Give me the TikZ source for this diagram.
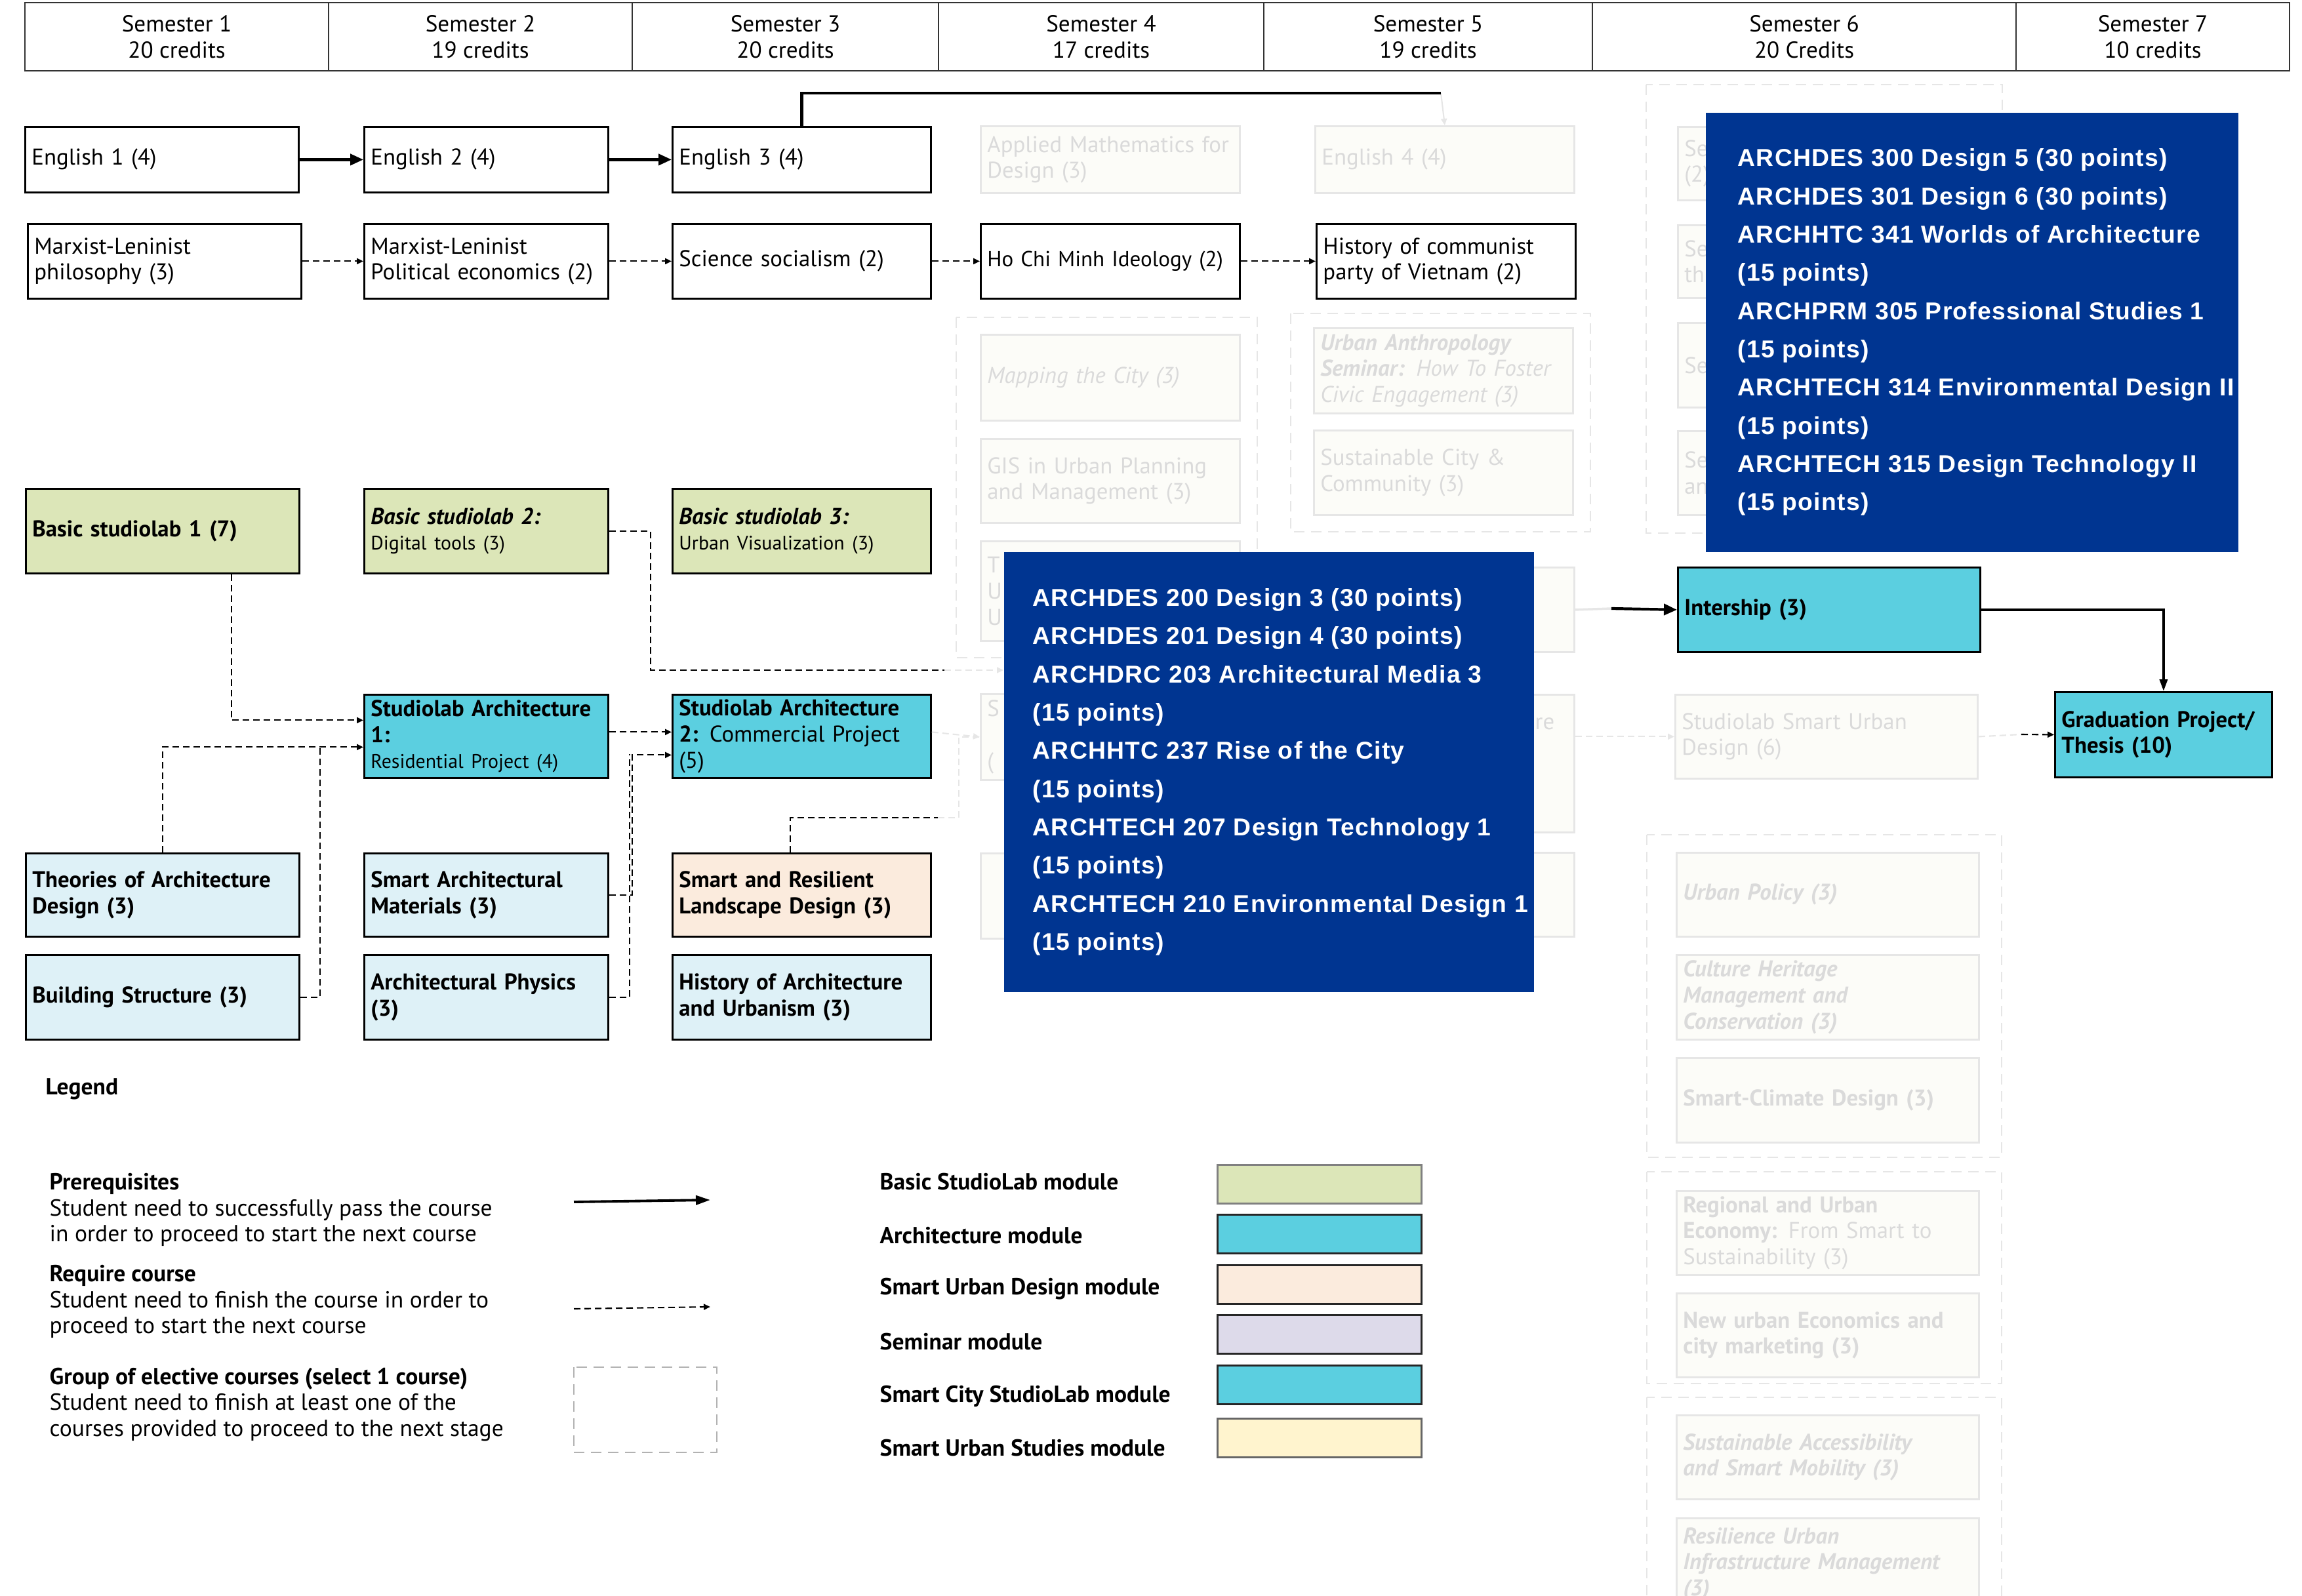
\documentclass[tikz,border=0pt]{standalone}
\usepackage{fontspec}
\setmainfont{PT Sans}
\newfontfamily\codefont[LetterSpace=3.5]{Liberation Sans}
\usetikzlibrary{arrows.meta,calc}

\definecolor{basicgreen}{HTML}{DCE6B8}
\definecolor{archcyan}{HTML}{5BCFE0}
\definecolor{paleblue}{HTML}{DEF1F7}
\definecolor{peach}{HTML}{FBEBDD}
\definecolor{lavender}{HTML}{DDDAEA}
\definecolor{cream}{HTML}{FFF4CE}
\definecolor{deepblue}{HTML}{003591}
\definecolor{fadetext}{HTML}{DADADA}
\definecolor{fadeline}{HTML}{E6E6E6}
\definecolor{fadefill}{HTML}{FCFCF8}

\newcommand{\smallline}{\fontsize{8.5}{10.5}\selectfont}

\begin{document}
\begin{tikzpicture}[x=1cm,y=-1cm,
    sem/.style={draw=black!80, line width=0.6pt, anchor=north west, align=center, inner sep=0pt, minimum height=1.04cm, font=\fontsize{10}{11.3}\selectfont},
    box/.style={draw=black, line width=0.8pt, anchor=north west, inner xsep=0.1cm, inner ysep=0pt, align=left, font=\fontsize{9.9}{11.3}\selectfont},
    fade/.style={box, draw=fadeline, fill=fadefill, text=fadetext},
    colA/.style={text width=3.97cm},
    colB/.style={text width=3.52cm},
    colC/.style={text width=3.74cm},
    colD/.style={text width=3.75cm},
    colE/.style={text width=3.75cm},
    colF/.style={text width=4.41cm},
    colG/.style={text width=3.11cm},
    group/.style={draw=fadeline, line width=0.6pt, dash pattern=on 0.16cm off 0.1cm},
    prereq/.style={line width=1.2pt, -{Triangle[length=0.2cm,width=0.17cm]}},
    req/.style={line width=0.6pt, dash pattern=on 0.1cm off 0.06cm, -{Triangle[length=0.1cm,width=0.09cm]}},
    fadereq/.style={req, draw=fadeline, color=fadeline},
    bluebox/.style={fill=deepblue, anchor=north west, inner sep=0pt},
    bluetext/.style={anchor=west, inner sep=0pt, align=left, text=white, font=\codefont\bfseries\fontsize{10.6}{16.6}\selectfont},
    swatch/.style={draw=black!85, line width=0.8pt, anchor=north west, minimum width=3.11cm, minimum height=0.59cm, inner sep=0pt},
    legtext/.style={anchor=west, align=left, inner sep=0pt, font=\fontsize{10.1}{11.3}\selectfont}]

  \useasboundingbox (0,0) rectangle (35.10,24.33);

  % semesters
  \node[sem, minimum width=4.63cm] (s1) at (0.37,0.03) {Semester 1\\20 credits};
  \node[sem, minimum width=4.63cm] (s2) at (5.00,0.03) {Semester 2\\19 credits};
  \node[sem, minimum width=4.67cm] (s3) at (9.63,0.03) {Semester 3\\20 credits};
  \node[sem, minimum width=4.96cm] (s4) at (14.30,0.03) {Semester 4\\17 credits};
  \node[sem, minimum width=5.01cm] (s5) at (19.26,0.03) {Semester 5\\19 credits};
  \node[sem, minimum width=6.46cm] (s6) at (24.27,0.03) {Semester 6\\20 Credits};
  \node[sem, minimum width=4.17cm] (s7) at (30.73,0.03) {Semester 7\\10 credits};

  % faded groups of elective courses
  \draw[group] (14.58,4.84) rectangle (19.17,10.03);
  \draw[group] (19.68,4.78) rectangle (24.25,8.11);
  \draw[group] (25.10,1.29) rectangle (30.53,8.13);
  \draw[group] (25.11,12.73) rectangle (30.52,17.65);
  \draw[group] (25.11,17.87) rectangle (30.52,21.10);
  \draw[group] (25.11,21.31) rectangle (30.52,24.80);

  % faded courses
  \node[fade, colD, minimum height=1.02cm] (appmath) at (14.94,1.91) {Applied Mathematics for\\Design (3)};
  \node[fade, colE, minimum height=1.02cm] (eng4) at (20.04,1.91) {English 4 (4)};
  \node[fade, colD, minimum height=1.31cm] (mapcity) at (14.94,5.09) {\textit{Mapping the City (3)}};
  \node[fade, colD, minimum height=1.28cm] (gis) at (14.94,6.68) {GIS in Urban Planning\\and Management (3)};
  \node[fade, colD, minimum height=1.52cm] (fadeT) at (14.94,8.24) {T\\U\\U};
  \node[fade, colD, minimum height=1.31cm] (fade4b) at (14.94,10.57) {S\\[0.4cm](};
  \node[fade, colD, minimum height=1.30cm] (fade4c) at (14.94,13.00) {};
  \node[fade, colE, minimum height=1.30cm] (urbanth) at (20.02,4.99) {\textbf{\textit{Urban Anthropology}}\\\textbf{\textit{Seminar:}} \textit{How To Foster}\\\textit{Civic Engagement (3)}};
  \node[fade, colE, minimum height=1.29cm] (suscity) at (20.02,6.55) {Sustainable City \&\\Community (3)};
  \node[fade, colE, minimum height=1.29cm] (fade5a) at (20.04,8.64) {};
  \node[fade, colE, minimum height=2.10cm] (fade5b) at (20.04,10.58) {};
  \node[fade, colE, minimum height=1.28cm] (fade5c) at (20.04,12.99) {};
  \node[fadetext, anchor=west, inner sep=0pt, font=\fontsize{9.9}{11}\selectfont] (refrag) at (23.40,11.04) {re};
  \node[fade, colF, minimum height=1.12cm] (se1) at (25.57,1.92) {Se\\(2)};
  \node[fade, colF, minimum height=1.11cm] (se2) at (25.57,3.42) {Se\\th};
  \node[fade, colF, minimum height=1.29cm] (se3) at (25.57,4.91) {Se};
  \node[fade, colF, minimum height=1.28cm] (se4) at (25.57,6.56) {Se\\an};
  \node[fade, colF, minimum height=1.28cm] (smartud) at (25.53,10.58) {Studiolab Smart Urban\\Design (6)};
  \node[fade, colF, minimum height=1.28cm] (upolicy) at (25.55,12.99) {\textbf{\textit{Urban Policy (3)}}};
  \node[fade, colF, minimum height=1.29cm] (cheritage) at (25.55,14.55) {\textbf{\textit{Culture Heritage}}\\\textbf{\textit{Management and}}\\\textbf{\textit{Conservation (3)}}};
  \node[fade, colF, minimum height=1.29cm] (sclimate) at (25.55,16.12) {\textbf{Smart-Climate Design (3)}};
  \node[fade, colF, minimum height=1.28cm] (regecon) at (25.55,18.15) {\textbf{Regional and Urban}\\\textbf{Economy:} From Smart to\\Sustainability (3)};
  \node[fade, colF, minimum height=1.28cm] (newecon) at (25.55,19.71) {\textbf{New urban Economics and}\\\textbf{city marketing (3)}};
  \node[fade, colF, minimum height=1.28cm] (susacc) at (25.55,21.57) {\textbf{\textit{Sustainable Accessibility}}\\\textbf{\textit{and Smart Mobility (3)}}};
  \node[fade, colF, minimum height=1.40cm] (resinf) at (25.55,23.14) {\textbf{\textit{Resilience Urban}}\\\textbf{\textit{Infrastructure Management}}\\\textbf{\textit{(3)}}};

  % general courses
  \node[box, colA, minimum height=1.00cm] (eng1) at (0.37,1.92) {English 1 (4)};
  \node[box, colB, minimum height=1.00cm] (eng2) at (5.54,1.92) {English 2 (4)};
  \node[box, colC, minimum height=1.00cm] (eng3) at (10.24,1.92) {English 3 (4)};
  \node[box, colA, minimum height=1.14cm] (ml1) at (0.41,3.40) {Marxist-Leninist\\philosophy (3)};
  \node[box, colB, minimum height=1.14cm] (ml2) at (5.54,3.40) {Marxist-Leninist\\Political economics (2)};
  \node[box, colC, minimum height=1.14cm] (scisoc) at (10.24,3.40) {Science socialism (2)};
  \node[box, colD, minimum height=1.14cm, font=\fontsize{9.4}{11.3}\selectfont] (hcm) at (14.94,3.40) {Ho Chi Minh Ideology (2)};
  \node[box, colE, minimum height=1.14cm] (hcp) at (20.06,3.40) {History of communist\\party of Vietnam (2)};

  % studiolabs and modules
  \node[box, colA, minimum height=1.29cm, fill=basicgreen] (bs1) at (0.38,7.44) {\textbf{Basic studiolab 1 (7)}};
  \node[box, colB, minimum height=1.29cm, fill=basicgreen] (bs2) at (5.54,7.44) {\textbf{\textit{Basic studiolab 2:}}\\{\smallline Digital tools (3)}};
  \node[box, colC, minimum height=1.29cm, fill=basicgreen] (bs3) at (10.24,7.44) {\textbf{\textit{Basic studiolab 3:}}\\{\smallline Urban Visualization (3)}};
  \node[box, colB, minimum height=1.27cm, fill=archcyan] (sa1) at (5.54,10.58) {\textbf{Studiolab Architecture}\\\textbf{1:}\\{\smallline Residential Project (4)}};
  \node[box, colC, minimum height=1.27cm, fill=archcyan] (sa2) at (10.24,10.58) {\textbf{Studiolab Architecture}\\\textbf{2:} Commercial Project\\(5)};
  \node[box, colA, minimum height=1.27cm, fill=paleblue] (theo) at (0.38,13.00) {\textbf{Theories of Architecture}\\\textbf{Design (3)}};
  \node[box, colB, minimum height=1.27cm, fill=paleblue] (smat) at (5.54,13.00) {\textbf{Smart Architectural}\\\textbf{Materials (3)}};
  \node[box, colC, minimum height=1.27cm, fill=peach] (sres) at (10.24,13.00) {\textbf{Smart and Resilient}\\\textbf{Landscape Design (3)}};
  \node[box, colA, minimum height=1.29cm, fill=paleblue] (bstruct) at (0.38,14.55) {\textbf{Building Structure (3)}};
  \node[box, colB, minimum height=1.29cm, fill=paleblue] (aphys) at (5.54,14.55) {\textbf{Architectural Physics}\\\textbf{(3)}};
  \node[box, colC, minimum height=1.29cm, fill=paleblue] (harch) at (10.24,14.55) {\textbf{History of Architecture}\\\textbf{and Urbanism (3)}};
  \node[box, colF, minimum height=1.29cm, fill=archcyan] (intern) at (25.57,8.64) {\textbf{Intership (3)}};
  \node[box, colG, minimum height=1.30cm, fill=archcyan] (grad) at (31.32,10.54) {\textbf{Graduation Project/}\\\textbf{Thesis (10)}};

  % faded connectors
  \coordinate (e4c) at (21.97,1.42);
  \draw[fadereq, solid] (e4c) -- (eng4.north);
  \draw[fadereq] (14.40,10.22) -- (15.30,10.22);
  \draw[fadereq, -] (14.30,12.47) -- (14.62,12.47) |- (fade4b.west);
  \draw[fadereq] ([yshift=0.065cm]sa2.east) -- (fade4b.west);
  \draw[fadereq] (fade5b.east |- smartud.west) -- (smartud.west);
  \draw[fadeline, line width=1pt] (fade5a.east) -- (24.57,9.28);
  \draw[fadereq, -] (smartud.east) -- (30.82,11.20);

  % prerequisites
  \draw[prereq] (eng1) -- (eng2);
  \draw[prereq] (eng2) -- (eng3);
  \draw[line width=1.2pt] (eng3.north) |- (e4c);
  \draw[prereq] (24.57,9.28) coordinate (i1) -- (intern.west);
  \draw[line width=1pt, -{Triangle[length=0.18cm,width=0.12cm]}] (intern.east) -| (grad.north);

  % required courses
  \draw[req] (ml1) -- (ml2);
  \draw[req] (ml2) -- (scisoc);
  \draw[req] (scisoc) -- (hcm);
  \draw[req] (hcm) -- (hcp);
  \draw[req] ([xshift=1.05cm]bs1.south) |- ([yshift=0.245cm]sa1.west);
  \draw[req] (theo.north) |- ([yshift=-0.165cm]sa1.west);
  \draw[req, -] (bstruct.east) -| (4.88,11.38) coordinate (j1);
  \draw[req, -] (bs2.east) -- ++(0.63,0) |- (14.40,10.22) coordinate (b2c);
  \draw[req] ([yshift=0.065cm]sa1.east) -- ([yshift=0.065cm]sa2.west);
  \draw[req] (smat.east) -- ++(0.35,0) |- ([yshift=-0.285cm]sa2.west);
  \draw[req, -] (aphys.east) -| (9.60,11.50) coordinate (j2);
  \draw[req, -] ([xshift=-0.17cm]sres.north) |- (14.30,12.47) coordinate (r1);
  \draw[req] (30.82,11.20) coordinate (g1) -- (grad.west);

  % course lists
  \node[bluebox, minimum width=8.12cm, minimum height=6.70cm] (topblue) at (26.00,1.71) {};
  \node[bluetext] (toplist) at ([xshift=0.49cm]topblue.west)
    {ARCHDES 300 Design 5 (30 points)\\ARCHDES 301 Design 6 (30 points)\\ARCHHTC 341 Worlds of Architecture\\(15 points)\\ARCHPRM 305 Professional Studies 1\\(15 points)\\ARCHTECH 314 Environmental Design II\\(15 points)\\ARCHTECH 315 Design Technology II\\(15 points)};
  \node[bluebox, minimum width=8.08cm, minimum height=6.71cm] (botblue) at (15.30,8.41) {};
  \node[bluetext] (botlist) at ([xshift=0.44cm]botblue.west)
    {ARCHDES 200 Design 3 (30 points)\\ARCHDES 201 Design 4 (30 points)\\ARCHDRC 203 Architectural Media 3\\(15 points)\\ARCHHTC 237 Rise of the City\\(15 points)\\ARCHTECH 207 Design Technology 1\\(15 points)\\ARCHTECH 210 Environmental Design 1\\(15 points)};

  % legend
  \node[legtext] (legend) at (0.69,16.61) {\textbf{Legend}};
  \node[legtext] (lpre) at (0.75,18.45) {\textbf{Prerequisites}\\Student need to successfully pass the course\\in order to proceed to start the next course};
  \node[legtext] (lreq) at (0.75,19.85) {\textbf{Require course}\\Student need to finish the course in order to\\proceed to start the next course};
  \node[legtext] (lgrp) at (0.75,21.42) {\textbf{Group of elective courses (select 1 course)}\\Student need to finish at least one of the\\courses provided to proceed to the next stage};
  \coordinate (a1) at (8.75,18.33);
  \coordinate (a2) at (10.83,18.30);
  \coordinate (b1) at (8.75,19.96);
  \coordinate (b2) at (10.83,19.93);
  \draw[line width=1.1pt, -{Triangle[length=0.22cm,width=0.14cm]}] (a1) -- (a2);
  \draw[req] (b1) -- (b2);
  \draw[draw=black!30, line width=0.8pt, dash pattern=on 0.16cm off 0.1cm] (8.75,20.85) rectangle (10.93,22.15);

  \node[legtext] (mbasic) at (13.41,18.02) {\textbf{Basic StudioLab module}};
  \node[legtext] (march) at (13.41,18.84) {\textbf{Architecture module}};
  \node[legtext] (murban) at (13.41,19.66) {\textbf{Smart Urban Design module}};
  \node[legtext] (msem) at (13.41,20.46) {\textbf{Seminar module}};
  \node[legtext] (mcity) at (13.41,21.29) {\textbf{Smart City StudioLab module}};
  \node[legtext] (mstud) at (13.41,22.08) {\textbf{Smart Urban Studies module}};
  \node[swatch, fill=basicgreen, draw=black!50] (wbasic) at (18.55,17.75) {};
  \node[swatch, fill=archcyan] (warch) at (18.55,18.51) {};
  \node[swatch, fill=peach] (wurban) at (18.55,19.28) {};
  \node[swatch, fill=lavender] (wsem) at (18.55,20.04) {};
  \node[swatch, fill=archcyan] (wcity) at (18.55,20.81) {};
  \node[swatch, fill=cream, draw=black!60] (wstud) at (18.55,21.62) {};
\end{tikzpicture}
\end{document}
